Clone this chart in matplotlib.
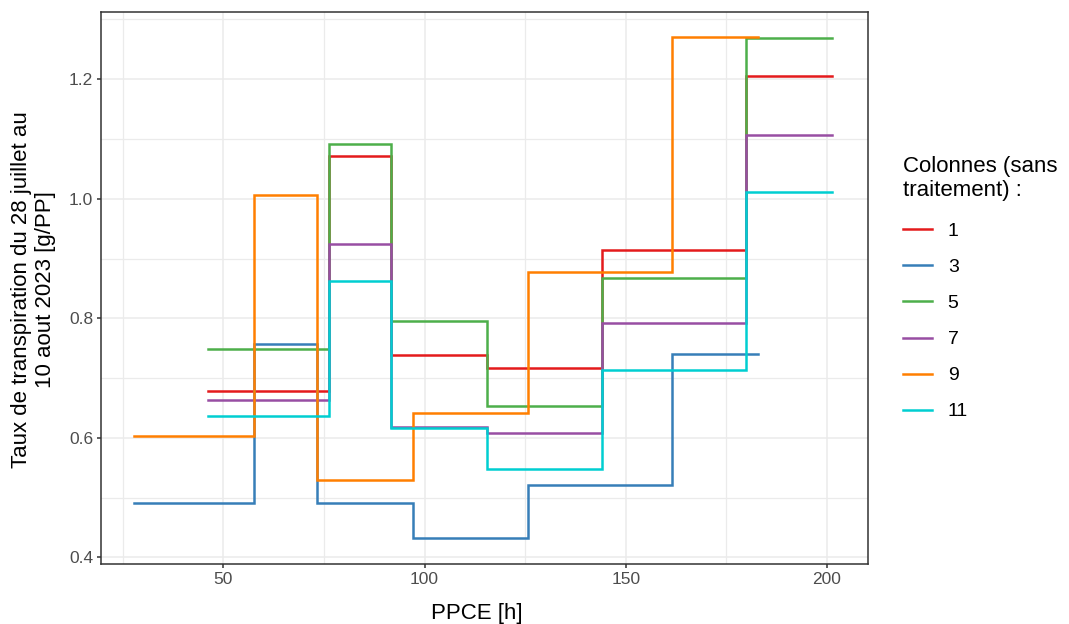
import numpy as np
import matplotlib
matplotlib.use("Agg")
import matplotlib.pyplot as plt
from matplotlib.ticker import MultipleLocator

plt.rcParams['font.family'] = ['Liberation Sans', 'DejaVu Sans']

# PPCE step edges (h): columns 3 and 9 share one set, the others another
ppce_a = [27.7, 57.7, 73.3, 97.1, 125.8, 161.6, 182.9]
ppce_b = [46.3, 76.2, 91.6, 115.6, 144.2, 180.0, 201.3]

# transpiration rate per interval, last value repeated to close the step
col1 = [0.679, 1.071, 0.738, 0.717, 0.915, 1.206, 1.206]
col3 = [0.491, 0.757, 0.491, 0.432, 0.522, 0.741, 0.741]
col5 = [0.749, 1.091, 0.795, 0.653, 0.868, 1.269, 1.269]
col7 = [0.663, 0.925, 0.619, 0.608, 0.793, 1.107, 1.107]
col9 = [0.603, 1.006, 0.530, 0.641, 0.878, 1.271, 1.271]
col11 = [0.637, 0.863, 0.616, 0.548, 0.713, 1.011, 1.011]

labels = ["1", "3", "5", "7", "9", "11"]
xs = [ppce_b, ppce_a, ppce_b, ppce_b, ppce_a, ppce_b]
ys = [col1, col3, col5, col7, col9, col11]
colors = ["#E41A1C", "#377EB8", "#4DAF4A", "#984EA3", "#FF7F00", "#00CED1"]

fig = plt.figure(figsize=(10.69, 6.24), dpi=100)
ax = fig.add_axes([101/1069, 1-564/624, (868-101)/1069, (564-12)/624])

for x, y, c, lab in zip(xs, ys, colors, labels):
    ax.step(x, y, where='post', color=c, lw=1.8, label=lab, solid_joinstyle='miter')

ax.set_xlim(19.6, 210.2)
ax.set_ylim(0.389, 1.3125)
ax.xaxis.set_major_locator(MultipleLocator(50))
ax.xaxis.set_minor_locator(MultipleLocator(25))
ax.yaxis.set_major_locator(MultipleLocator(0.2))
ax.yaxis.set_minor_locator(MultipleLocator(0.1))
ax.yaxis.set_major_formatter(matplotlib.ticker.FormatStrFormatter('%.1f'))

ax.grid(True, which='major', color='#EBEBEB', lw=1.1)
ax.grid(True, which='minor', color='#EBEBEB', lw=0.9)
ax.set_axisbelow(True)
for s in ax.spines.values():
    s.set_color('#333333')
    s.set_linewidth(1.1)
ax.tick_params(which='major', length=3, width=1.1, color='#333333',
               labelcolor='#4D4D4D', labelsize=12.5, pad=2.5)
ax.tick_params(which='minor', length=0)

ax.set_xlabel("PPCE [h]", fontsize=16, color='black')
ax.xaxis.set_label_coords(0.49, -0.07)
ax.set_ylabel("Taux de transpiration du 28 juillet au\n10 aout 2023 [g/PP]",
              fontsize=16, color='black', linespacing=1.2)
ax.yaxis.set_label_coords(-0.059, 0.497)

leg = ax.legend(title="Colonnes (sans\ntraitement) :", loc='upper left',
                bbox_to_anchor=(903/1069, 1-156/624), bbox_transform=fig.transFigure,
                frameon=False, fontsize=14, title_fontsize=16,
                handlelength=1.5, handletextpad=0.8, labelspacing=0.95,
                alignment='left', borderaxespad=0, borderpad=0)
leg.get_title().set_linespacing(1.2)
leg._legend_box.sep += 2

fig.savefig("out.png", dpi=100)
